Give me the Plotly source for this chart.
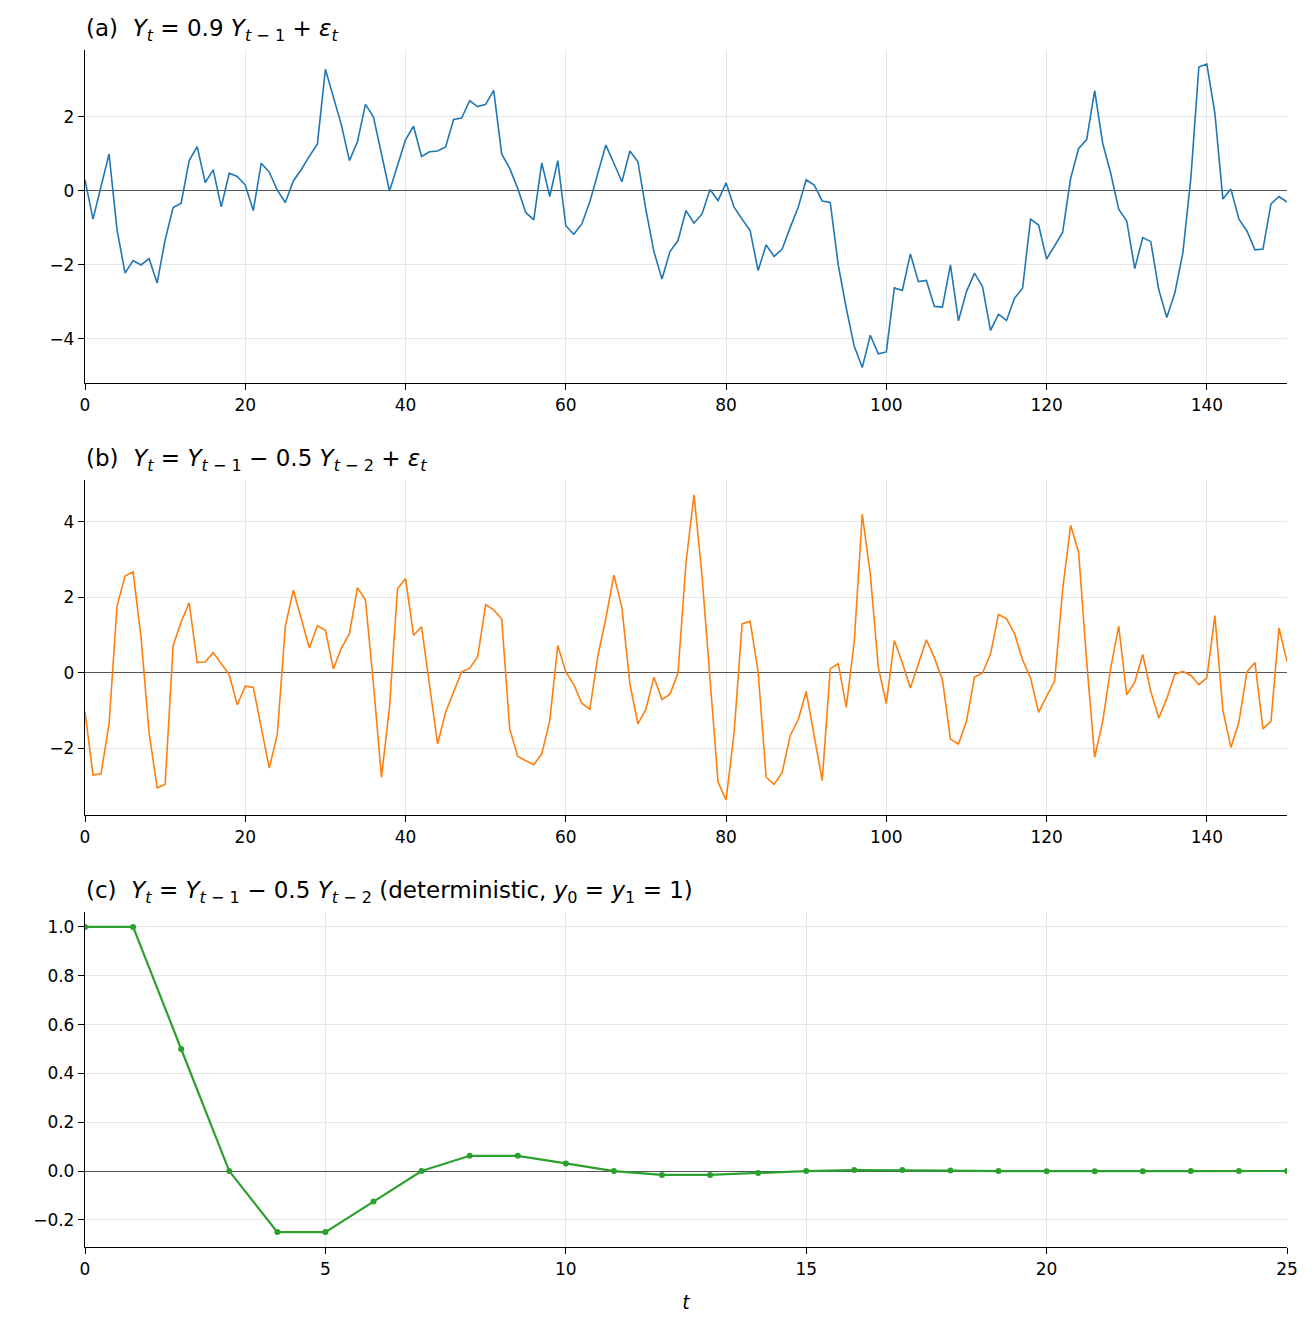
import plotly.graph_objs as go

# time index
t_long = list(range(151))
t_short = list(range(26))

# (a) AR(1) sample path
ar1 = [0.30, -0.76, 0.12, 1.00, -1.05, -2.22, -1.88, -2.00, -1.83, -2.49,
       -1.32, -0.45, -0.33, 0.82, 1.20, 0.23, 0.57, -0.43, 0.48, 0.39,
       0.16, -0.53, 0.75, 0.51, 0.02, -0.31, 0.27, 0.58, 0.94, 1.27,
       3.29, 2.54, 1.78, 0.82, 1.33, 2.34, 2.00, 1.00, 0.00, 0.69,
       1.38, 1.75, 0.93, 1.06, 1.08, 1.19, 1.93, 1.97, 2.44, 2.28,
       2.34, 2.72, 1.00, 0.61, 0.07, -0.58, -0.78, 0.76, -0.15, 0.82,
       -0.94, -1.17, -0.89, -0.29, 0.48, 1.24, 0.75, 0.25, 1.08, 0.79,
       -0.51, -1.64, -2.38, -1.64, -1.34, -0.53, -0.87, -0.62, 0.04, -0.26,
       0.22, -0.44, -0.76, -1.07, -2.15, -1.46, -1.77, -1.57, -0.99, -0.44,
       0.30, 0.16, -0.27, -0.31, -2.00, -3.17, -4.20, -4.77, -3.90, -4.40,
       -4.35, -2.62, -2.69, -1.70, -2.45, -2.42, -3.12, -3.14, -2.00, -3.51,
       -2.72, -2.22, -2.58, -3.77, -3.33, -3.50, -2.90, -2.63, -0.76, -0.92,
       -1.84, -1.46, -1.12, 0.34, 1.15, 1.39, 2.71, 1.29, 0.48, -0.49,
       -0.81, -2.10, -1.26, -1.37, -2.67, -3.42, -2.76, -1.68, 0.34, 3.35,
       3.43, 2.10, -0.22, 0.05, -0.76, -1.08, -1.59, -1.57, -0.35, -0.15,
       -0.30]

# (b) AR(2) sample path
ar2 = [-1.02, -2.70, -2.67, -1.35, 1.77, 2.57, 2.68, 0.93, -1.59, -3.04,
       -2.95, 0.73, 1.35, 1.86, 0.28, 0.29, 0.54, 0.26, -0.04, -0.84,
       -0.35, -0.38, -1.46, -2.52, -1.62, 1.24, 2.19, 1.46, 0.66, 1.25,
       1.13, 0.11, 0.66, 1.04, 2.26, 1.93, -0.30, -2.76, -0.90, 2.23,
       2.50, 1.00, 1.22, -0.33, -1.88, -1.04, -0.49, 0.03, 0.12, 0.43,
       1.81, 1.67, 1.43, -1.48, -2.21, -2.33, -2.43, -2.14, -1.26, 0.73,
       0.03, -0.31, -0.80, -0.96, 0.45, 1.45, 2.59, 1.73, -0.29, -1.35,
       -0.96, -0.11, -0.70, -0.56, 0.00, 2.92, 4.72, 2.57, -0.13, -2.89,
       -3.36, -1.59, 1.30, 1.37, 0.04, -2.76, -2.95, -2.63, -1.66, -1.24,
       -0.49, -1.64, -2.85, 0.11, 0.25, -0.91, 0.84, 4.20, 2.61, 0.15,
       -0.81, 0.86, 0.27, -0.40, 0.27, 0.88, 0.40, -0.18, -1.75, -1.88,
       -1.28, -0.11, 0.00, 0.50, 1.55, 1.44, 1.04, 0.35, -0.13, -1.04,
       -0.62, -0.22, 2.21, 3.91, 3.19, 0.30, -2.23, -1.28, 0.13, 1.24,
       -0.58, -0.24, 0.49, -0.49, -1.19, -0.68, -0.03, 0.04, -0.06, -0.31,
       -0.13, 1.52, -0.99, -1.97, -1.30, 0.03, 0.28, -1.48, -1.28, 1.19,
       0.31]

# (c) deterministic recursion, y0 = y1 = 1
det = [1.0, 1.0, 0.5, 0.0, -0.25, -0.25, -0.125, 0.0, 0.0625, 0.0625,
       0.03125, 0.0, -0.015625, -0.015625, -0.0078, 0.0, 0.0039, 0.0039,
       0.002, 0.0, -0.001, -0.001, -0.0005, 0.0, 0.0002, 0.0002]

titles = [
    "(a)  <i>Y<sub>t</sub></i> = 0.9 <i>Y</i><sub><i>t</i> − 1</sub> + <i>ε<sub>t</sub></i>",
    "(b)  <i>Y<sub>t</sub></i> = <i>Y</i><sub><i>t</i> − 1</sub> − 0.5 "
    "<i>Y</i><sub><i>t</i> − 2</sub> + <i>ε<sub>t</sub></i>",
    "(c)  <i>Y<sub>t</sub></i> = <i>Y</i><sub><i>t</i> − 1</sub> − 0.5 "
    "<i>Y</i><sub><i>t</i> − 2</sub> (deterministic, <i>y</i><sub>0</sub> = <i>y</i><sub>1</sub> = 1)",
]

data = [
    go.Scatter(x=t_long, y=ar1, mode='lines', line=dict(color='#1f77b4', width=1.6),
               xaxis='x', yaxis='y', showlegend=False),
    go.Scatter(x=t_long, y=ar2, mode='lines', line=dict(color='#ff7f0e', width=1.6),
               xaxis='x2', yaxis='y2', showlegend=False),
    go.Scatter(x=t_short, y=det, mode='lines+markers', line=dict(color='#2ca02c', width=2.2),
               marker=dict(size=6, color='#2ca02c'),
               xaxis='x3', yaxis='y3', showlegend=False),
]

# page has an 8px body margin, so the figure is 8px smaller than the window
W, H = 1308, 1323
top, bottom = 42, 84
area = H - top - bottom


def dom(y0, y1):
    # pixel rows of the reference -> paper fraction
    return [1 - (y1 - 50) / area, 1 - (y0 - 50) / area]


doms = [dom(50, 383), dom(480, 815), dom(912, 1247)]
yranges = [[-5.19, 3.81], [-3.76, 5.11], [-0.311, 1.061]]
xranges = [[0, 150], [0, 150], [0, 25]]

axis_style = dict(showline=True, linecolor='black', linewidth=1.3, ticks='outside',
                  ticklen=6, tickwidth=1.3, tickcolor='black', mirror=False,
                  showgrid=True, gridcolor='#e6e6e6', gridwidth=1,
                  tickfont=dict(size=17, color='black'))

layout = dict(width=W, height=H, plot_bgcolor='white', paper_bgcolor='white',
              font=dict(family='DejaVu Sans', color='black'),
              margin=dict(l=77, r=29, t=top, b=bottom), annotations=[])

for i in range(3):
    s = '' if i == 0 else str(i + 1)
    xa = dict(axis_style, domain=[0, 1], range=xranges[i], anchor='y' + s,
              zeroline=False, dtick=20 if i < 2 else 5)
    ya = dict(axis_style, domain=doms[i], range=yranges[i], anchor='x' + s,
              zeroline=True, zerolinecolor='#555555', zerolinewidth=1)
    if i == 2:
        ya.update(dtick=0.2, tickformat='.1f')
        xa.update(title=dict(text='<i>t</i>', font=dict(size=19), standoff=18))
    else:
        ya.update(dtick=2)
    layout['xaxis' + s] = xa
    layout['yaxis' + s] = ya
    layout['annotations'].append(dict(text=titles[i], xref='paper', yref='paper',
                                      x=0, y=doms[i][1], xanchor='left', yanchor='bottom',
                                      xshift=-1, yshift=3, showarrow=False,
                                      font=dict(size=23)))

fig = go.Figure(data=data, layout=layout)
fig.write_html("out.html")
